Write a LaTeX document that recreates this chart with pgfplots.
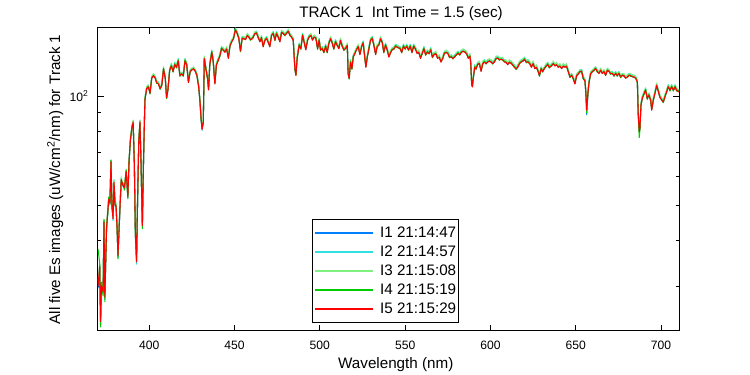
\documentclass[border=0pt]{standalone}
\usepackage{pgfplots}
\pgfplotsset{compat=1.18}
\usepackage{pgfplotstable}
\usepackage{fontspec}
\setmainfont{Liberation Sans}
\definecolor{cIa}{RGB}{0,128,255}
\definecolor{cIb}{RGB}{48,224,224}
\definecolor{cIc}{RGB}{128,240,128}
\definecolor{cId}{RGB}{0,204,0}
\definecolor{cIe}{RGB}{255,0,0}
\pgfplotstableread{
wl i1 i2 i3 i4 i5
370 29.6 30.6 31 38 30
371 34.3 33.5 34.5 34.8 34
371.5 23.6 24.6 25 23.2 24
372 30.3 29.5 30.5 30.8 30
373 28.6 29.6 30 28.2 29
373.5 45.3 44.5 45.5 45.8 45
374 27.6 28.6 29 27.2 28
375 43.3 42.5 43.5 43.8 43
375.7 47.6 48.6 49 47.2 48
376.3 52.3 51.5 52.5 52.8 52
377 50.6 51.6 52 50.2 51
377.6 66.3 65.5 66.5 66.8 66
378.2 49.6 50.6 51 49.2 50
378.8 46.3 45.5 46.5 46.8 46
379.4 57.6 58.6 59 57.2 58
380 50.3 49.5 50.5 50.8 50
380.6 49.6 50.6 51 49.2 50
381.2 43.3 42.5 43.5 43.8 43
381.7 36.1 37.1 37.5 35.7 36.5
382.7 47.3 46.5 47.5 47.8 47
383.6 58.6 59.6 60 58.2 59
384.5 57.3 56.5 57.5 57.8 57
385.5 55.6 56.6 57 55.2 56
386.5 62.3 61.5 62.5 62.8 62
387.5 52.6 53.6 54 52.2 53
388.2 66.3 65.5 66.5 66.8 66
389 75.6 76.6 77 75.2 76
389.9 82.3 81.5 82.5 82.8 82
390.6 84.6 85.6 86 84.2 85
391.3 65.3 64.5 65.5 65.8 65
391.9 41.6 42.6 43 41.2 42
392.6 35.3 34.5 35.5 35.8 35
393.2 51.6 52.6 53 51.2 52
393.9 75.3 74.5 75.5 75.8 75
394.6 84.6 85.6 86 84.2 85
395.2 66.3 65.5 66.5 66.8 66
396 43.6 44.6 45 43.2 44
396.7 67.3 66.5 67.5 67.8 67
397.5 97.8 99 98.5 98 97.5
398.5 104.7 105.8 106.5 104.4 105
399.5 106.3 107.5 107 106.5 106
400.5 101.7 102.8 103.5 101.4 102
401.5 112.3 113.5 113 112.5 112
402.5 113.7 114.8 115.5 113.4 114
403.5 112.3 113.5 113 112.5 112
404.4 108.7 109.8 110.5 108.4 109
405.4 108.3 109.5 109 108.5 108
406.4 104.7 105.8 106.5 104.4 105
407.4 107.3 108.5 108 107.5 107
408.4 118.7 119.8 120.5 118.4 119
409.4 112.3 113.5 113 112.5 112
410.2 98.7 99.8 100.5 98.4 99
411 104.3 105.5 105 104.5 104
412 117.7 118.8 119.5 117.4 118
413 121.5 123 122.2 121.8 121
414 116.7 117.8 118.5 116.4 117
415 122.5 124 123.2 122.8 122
416 120.2 121 122 119.5 120
417 125.5 127 126.2 125.8 125
418 113.7 114.8 115.5 113.4 114
419 115.3 116.5 116 115.5 115
420 113.7 114.8 115.5 113.4 114
421 125.5 127 126.2 125.8 125
422 122.2 123 124 121.5 122
423 109.3 110.5 110 109.5 109
424 116.7 117.8 118.5 116.4 117
425 118.3 119.5 119 118.5 118
426 118.7 119.8 120.5 118.4 119
427 117.3 118.5 118 117.5 117
428 113.7 114.8 115.5 113.4 114
429 106.3 107.5 107 106.5 106
429.8 96.2 97.3 98 95.9 96.5
430.4 86.6 87.6 88 86.2 87
431 81.3 80.5 81.5 81.8 81
431.7 84.6 85.6 86 84.2 85
432.3 127.2 128 129 126.5 127
433.2 119.3 120.5 120 119.5 119
434.2 111.7 112.8 113.5 111.4 112
434.8 104.3 105.5 105 104.5 104
435.5 122.2 123 124 121.5 122
436.7 132.5 134 133.2 132.8 132
437.5 125.2 126 127 124.5 125
438.5 108.3 109.5 109 108.5 108
439.4 122.2 123 124 121.5 122
440.4 125.5 127 126.2 125.8 125
441.4 129.2 130 131 128.5 129
442.4 135.5 137 136.2 135.8 135
443.4 134.2 135 136 133.5 134
444.4 132.5 134 133.2 132.8 132
445.4 135.2 136 137 134.5 135
446.4 127.5 129 128.2 127.8 127
447.4 138.2 139 140 137.5 138
448.4 141.5 143 142.2 141.8 141
449.4 144.2 145 146 143.5 144
450.5 152.5 154 153.2 152.8 152
451.3 150.2 151 152 149.5 150
452.5 144.5 146 145.2 144.8 144
453.5 133.2 134 135 132.5 133
454.5 144.5 146 145.2 144.8 144
455.5 144.2 145 146 143.5 144
456.5 143.5 145 144.2 143.8 143
457.5 147.2 148 149 146.5 147
458.4 145.5 147 146.2 145.8 145
459.4 143.2 144 145 142.5 143
460.6 144.5 146 145.2 144.8 144
461.9 148.8 149.6 150.6 148.1 148.6
462.9 149.5 151 150.2 149.8 149
463.9 145.2 146 147 144.5 145
464.9 141.5 143 142.2 141.8 141
465.8 145.2 146 147 144.5 145
466.8 137.1 138.6 137.8 137.4 136.6
467.8 142.7 143.5 144.5 142 142.5
468.8 144.5 146 145.2 144.8 144
469.7 141.2 142 143 140.5 141
470.7 137.1 138.6 137.8 137.4 136.6
471.7 147.2 148 149 146.5 147
472.7 149.1 150.6 149.8 149.4 148.6
473.7 142.7 143.5 144.5 142 142.5
474.6 149.1 150.6 149.8 149.4 148.6
475.6 145.7 146.5 147.5 145 145.5
476.6 141.5 143 142.2 141.8 141
477.6 150.2 151 152 149.5 150
478.5 149.1 150.6 149.8 149.4 148.6
479.5 147.2 148 149 146.5 147
480.5 149.1 150.6 149.8 149.4 148.6
481.5 151.2 152 153 150.5 151
482.4 147.5 149 148.2 147.8 147
483.4 145.7 146.5 147.5 145 145.5
484.4 143 144.5 143.7 143.3 142.5
485.4 118.7 119.8 120.5 118.4 119
486 114.3 115.5 115 114.5 114
486.7 127.2 128 129 126.5 127
487.9 138.5 140 139.2 138.8 138
488.9 135.2 136 137 134.5 135
489.9 147.5 149 148.2 147.8 147
490.8 141.2 142 143 140.5 141
491.8 134.5 136 135.2 134.8 134
492.8 142.7 143.5 144.5 142 142.5
493.8 146 147.5 146.7 146.3 145.5
494.8 147.2 148 149 146.5 147
495.7 143 144.5 143.7 143.3 142.5
496.7 145.7 146.5 147.5 145 145.5
497.7 144.5 146 145.2 144.8 144
498.7 135.2 136 137 134.5 135
499.6 143 144.5 143.7 143.3 142.5
500.4 134.2 135 136 133.5 134
501.4 135.5 137 136.2 135.8 135
502.4 132.2 133 134 131.5 132
503.4 137.5 139 138.2 137.8 137
504.3 132.2 133 134 131.5 132
505.3 140 141.5 140.7 140.3 139.5
506.3 144.2 145 146 143.5 144
507.3 140 141.5 140.7 140.3 139.5
508.2 135.2 136 137 134.5 135
509.2 141.5 143 142.2 141.8 141
510.2 138.2 139 140 137.5 138
511.2 135.5 137 136.2 135.8 135
512.1 142.7 143.5 144.5 142 142.5
513.1 137.5 139 138.2 137.8 137
514.1 134.2 135 136 133.5 134
515.1 135.5 137 136.2 135.8 135
516.1 138.2 139 140 137.5 138
516.6 115.3 116.5 116 115.5 115
517.2 111.7 112.8 113.5 111.4 112
518 124.5 126 125.2 124.8 124
518.8 118.7 119.8 120.5 118.4 119
519.6 128.5 130 129.2 128.8 128
520.5 131.2 132 133 130.5 131
521.5 134.5 136 135.2 134.8 134
522.5 137.2 138 139 136.5 137
523.5 130.5 132 131.2 130.8 130
524.5 137.2 138 139 136.5 137
525.4 140.5 142 141.2 140.8 140
526.4 127.2 128 129 126.5 127
527 120.5 122 121.2 120.8 120
527.8 128.2 129 130 127.5 128
528.8 135.5 137 136.2 135.8 135
529.7 142.7 143.5 144.5 142 142.5
530.7 144.5 146 145.2 144.8 144
531.7 138.2 139 140 137.5 138
532.7 130.5 132 131.2 130.8 130
533.6 137.2 138 139 136.5 137
534.6 138.5 140 139.2 138.8 138
535.6 144.2 145 146 143.5 144
536.6 140.5 142 141.2 140.8 140
537.5 132.2 133 134 131.5 132
538.5 138.5 140 139.2 138.8 138
539.5 134.2 135 136 133.5 134
540.5 128.5 130 129.2 128.8 128
541.5 132.2 133 134 131.5 132
542.4 134.5 136 135.2 134.8 134
543.4 135.2 136 137 134.5 135
544.4 137.5 139 138.2 137.8 137
546 136.2 137 138 135.5 136
547 135.5 137 136.2 135.8 135
548 132.2 133 134 131.5 132
549 137.5 139 138.2 137.8 137
550 135.2 136 137 134.5 135
551 137.5 139 138.2 137.8 137
552 134.2 135 136 133.5 134
553 137.5 139 138.2 137.8 137
554 132.2 133 134 131.5 132
555 137.5 139 138.2 137.8 137
556 135.2 136 137 134.5 135
557 131.5 133 132.2 131.8 131
558 132.2 133 134 131.5 132
559 127.5 129 128.2 127.8 127
560 131.2 132 133 130.5 131
561 135.5 137 136.2 135.8 135
562 130.2 131 132 129.5 130
563 132.5 134 133.2 132.8 132
564 131.2 132 133 130.5 131
565 134.5 136 135.2 134.8 134
566 128.2 129 130 127.5 128
567 130.5 132 131.2 130.8 130
568 131.2 132 133 130.5 131
569 127.5 129 128.2 127.8 127
570 128.2 129 130 127.5 128
571 124.5 126 125.2 124.8 124
572 127.2 128 129 126.5 127
573 131.5 133 132.2 131.8 131
574 132.2 133 134 131.5 132
575 131.5 133 132.2 131.8 131
576 128.2 129 130 127.5 128
577 128.5 130 129.2 128.8 128
578 127.2 128 129 126.5 127
579 128.5 130 129.2 128.8 128
580 130.2 131 132 129.5 130
581 131.5 133 132.2 131.8 131
582 130.2 131 132 129.5 130
583 132.5 134 133.2 132.8 132
584 133.2 134 135 132.5 133
585 132.5 134 133.2 132.8 132
586 131.2 132 133 130.5 131
587 127.5 129 128.2 127.8 127
588 129.2 130 131 128.5 129
588.5 122.5 124 123.2 122.8 122
589 107.7 108.8 109.5 107.4 108
589.4 106.3 107.5 107 106.5 106
590 112.7 113.8 114.5 112.4 113
590.8 120.5 122 121.2 120.8 120
591.5 118.7 119.8 120.5 118.4 119
592.5 122.5 124 123.2 122.8 122
593.5 123.2 124 125 122.5 123
594.5 117.3 118.5 118 117.5 117
595.5 123.2 124 125 122.5 123
596.4 124.5 126 125.2 124.8 124
597.4 123.2 124 125 122.5 123
598.4 124.5 126 125.2 124.8 124
599.4 125.2 126 127 124.5 125
600.3 124.5 126 125.2 124.8 124
601.3 123.2 124 125 122.5 123
602.3 124.5 126 125.2 124.8 124
603.3 127.2 128 129 126.5 127
604.2 127.5 129 128.2 127.8 127
605.2 126.2 127 128 125.5 126
606.2 126.5 128 127.2 126.8 126
607.2 126.2 127 128 125.5 126
608.2 124.5 126 125.2 124.8 124
609.1 124.2 125 126 123.5 124
610.1 122.5 124 123.2 122.8 122
611.1 124.2 125 126 123.5 124
612.1 123.5 125 124.2 123.8 123
613 122.2 123 124 121.5 122
614 120.5 122 121.2 120.8 120
615 118.7 119.8 120.5 118.4 119
616 120.5 122 121.2 120.8 120
617 123.2 124 125 122.5 123
618 124.5 126 125.2 124.8 124
619 125.2 126 127 124.5 125
620 126.5 128 127.2 126.8 126
621 124.2 125 126 123.5 124
622 124.5 126 125.2 124.8 124
623 123.2 124 125 122.5 123
624 120.5 122 121.2 120.8 120
625 123.2 124 125 122.5 123
626 119.3 120.5 120 119.5 119
627 120.2 121 122 119.5 120
628 116.9 118.1 117.6 117.1 116.6
628.7 113.7 114.8 115.5 113.4 114
629.7 119.3 120.5 120 119.5 119
630.6 116.7 117.8 118.5 116.4 117
631.6 119.3 120.5 120 119.5 119
632.6 121.2 122 123 120.5 121
633.6 122.5 124 123.2 122.8 122
634.5 120.2 121 122 119.5 120
635.8 121.5 123 122.2 121.8 121
636.8 123.2 124 125 122.5 123
637.8 121.5 123 122.2 121.8 121
638.8 122.2 123 124 121.5 122
639.7 120.5 122 121.2 120.8 120
640.7 121.2 122 123 120.5 121
641.7 119.3 120.5 120 119.5 119
642.7 121.2 122 123 120.5 121
643.7 120.5 122 121.2 120.8 120
644.6 121.2 122 123 120.5 121
645.6 116.9 118.1 117.6 117.1 116.6
646.6 112.7 113.8 114.5 112.4 113
647.6 114.3 115.5 115 114.5 114
648.5 111.7 112.8 113.5 111.4 112
649.5 108.3 109.5 109 108.5 108
650.5 113.7 114.8 115.5 113.4 114
651.5 115.3 116.5 116 115.5 115
652.4 116.7 117.8 118.5 116.4 117
653.4 117.3 118.5 118 117.5 117
654.4 111.7 112.8 113.5 111.4 112
655.4 110.3 111.5 111 110.5 110
656 100.3 101.4 102.1 100 100.6
656.4 89 92.5 92 90 91.5
657.1 101.4 102.5 103.2 101.1 101.7
657.7 108.7 109.9 109.4 108.9 108.4
658.7 115.1 116.2 116.9 114.8 115.4
659.7 116.9 118.1 117.6 117.1 116.6
660.7 117.7 118.8 119.5 117.4 118
661.6 119.3 120.5 120 119.5 119
662.6 116.7 117.8 118.5 116.4 117
663.6 115.7 116.9 116.4 115.9 115.4
664.6 117.7 118.8 119.5 117.4 118
665.5 115.7 116.9 116.4 115.9 115.4
666.5 116.7 117.8 118.5 116.4 117
667.5 114.3 115.5 115 114.5 114
668.5 117.7 118.8 119.5 117.4 118
669.4 117.3 118.5 118 117.5 117
670.4 115.1 116.2 116.9 114.8 115.4
671.4 115.7 116.9 116.4 115.9 115.4
672.4 113.7 114.8 115.5 113.4 114
673.4 115.7 116.9 116.4 115.9 115.4
674.3 113.7 114.8 115.5 113.4 114
675.3 115.7 116.9 116.4 115.9 115.4
676.3 112.7 113.8 114.5 112.4 113
677.3 114.3 115.5 115 114.5 114
678.2 113.7 114.8 115.5 113.4 114
679.2 112.3 113.5 113 112.5 112
680.2 112.7 113.8 114.5 112.4 113
681.2 114.3 115.5 115 114.5 114
682.1 113.7 114.8 115.5 113.4 114
683.1 113.3 114.5 114 113.5 113
684.1 112.7 113.8 114.5 112.4 113
685.1 112.3 113.5 113 112.5 112
686.1 109.2 110.3 111 108.9 109.5
686.6 89.2 90.2 90.6 88.8 89.6
687.2 80.3 79.5 80.5 77 80
687.6 81.1 82.1 82.5 80.7 81.5
688.2 94.2 95.3 96 93.9 94.5
689 98.9 100.1 99.6 99.1 98.6
690 101.4 102.5 103.2 101.1 101.7
690.9 104.2 105.4 104.9 104.4 103.9
691.9 98.3 99.4 100.1 98 98.6
692.9 100.9 102.1 101.6 101.1 100.6
693.9 97.2 98.3 99 96.9 97.5
694.5 91.8 93 92.5 92 91.5
695.4 97.2 98.3 99 96.9 97.5
696.4 102 103.2 102.7 102.2 101.7
697.4 106.9 108 108.7 106.6 107.2
698.4 103.1 104.3 103.8 103.3 102.8
699.3 99.3 100.4 101.1 99 99.6
700.3 97.8 99 98.5 98 97.5
701.3 96.2 97.3 98 95.9 96.5
702.3 99.9 101.1 100.6 100.1 99.6
703.2 102.5 103.6 104.3 102.2 102.8
704.2 106.4 107.6 107.1 106.6 106.1
705.2 103.6 104.7 105.4 103.3 103.9
706.2 106.4 107.6 107.1 106.6 106.1
707.2 103.6 104.7 105.4 103.3 103.9
708.2 106.4 107.6 107.1 106.6 106.1
709.1 103.6 104.7 105.4 103.3 103.9
710.1 103.1 104.3 103.8 103.3 102.8
710.6 103.4 104.5 104.2 103.6 103
}\spec
\newcommand{\lblfont}{\fontsize{11.4}{13}\selectfont}
\begin{document}
\begin{tikzpicture}
\begin{axis}[
  scale only axis,
  width=435.75pt, height=227.25pt,
  xmin=370, xmax=710.5,
  ymode=log, ymin=22.6, ymax=154,
  xtick={400,450,...,700},
  ytick={100}, yticklabels={10\textsuperscript{2}},
  minor ytick={30,40,50,60,70,80,90},
  tick align=inside,
  major tick length=4.5pt, minor tick length=2.5pt,
  axis line style={line width=0.75pt},
  every tick/.style={line width=0.75pt, black},
  /pgf/number format/assume math mode=true,
  tick label style={font=\fontsize{9.1}{11}\selectfont},
  xticklabel style={yshift=-4pt},
  yticklabel style={xshift=-3.5pt},
  every axis title shift=0pt,
  title={TRACK 1\ \ Int Time = 1.5 (sec)},
  title style={at={(rel axis cs:0.5215,1)}, anchor=base, yshift=7.5pt, inner sep=0pt, font=\lblfont},
  xlabel={Wavelength (nm)},
  xlabel style={at={(rel axis cs:0.5125,0)}, anchor=base, yshift=-28.5pt, inner sep=0pt, font=\lblfont},
  ylabel={All five Es images (uW/cm\textsuperscript{2}/nm) for Track 1},
  ylabel style={at={(rel axis cs:-0.0654,0.5)}, anchor=base, inner sep=0pt, font=\lblfont},
  legend cell align=left,
  legend style={at={(rel axis cs:0.369,0.0287)}, anchor=south west, font=\lblfont,
    inner xsep=1.5pt, inner ysep=3.85pt,
    row sep=2.25pt, column sep=4.5pt,
    nodes={inner sep=0pt, text height=9.5pt, text depth=2.5pt}},
  legend image code/.code={\draw[#1, line width=1.1pt] (6.3pt,0pt) -- (49.8pt,0pt);},
  every axis plot/.append style={line width=0.8pt, line join=round},
]
\addplot[cIa] table[x=wl, y=i1] {\spec};
\addplot[cIb] table[x=wl, y=i2] {\spec};
\addplot[cIc] table[x=wl, y=i3] {\spec};
\addplot[cId] table[x=wl, y=i4] {\spec};
\addplot[cIe] table[x=wl, y=i5] {\spec};
\legend{I1 21:14:47, I2 21:14:57, I3 21:15:08, I4 21:15:19, I5 21:15:29}
\end{axis}
\path ([xshift=-73.5pt,yshift=-33pt]current axis.south west) rectangle ([xshift=53.25pt,yshift=21pt]current axis.north east);
\end{tikzpicture}
\end{document}
